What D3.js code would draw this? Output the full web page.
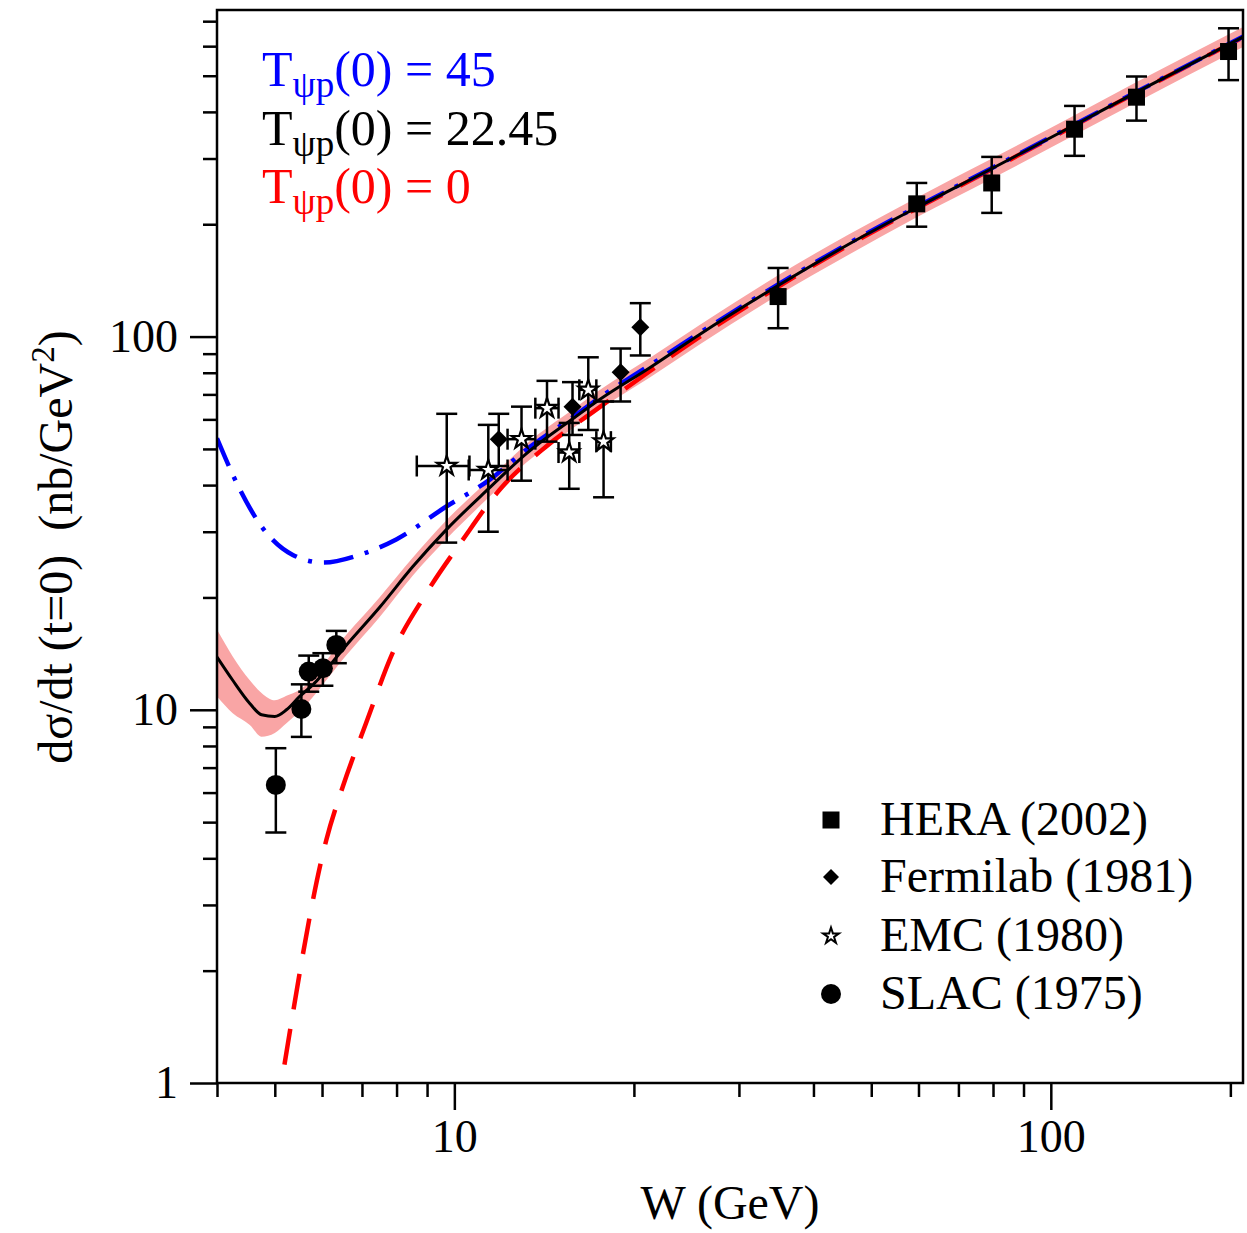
<!DOCTYPE html>
<html>
<head>
<meta charset="utf-8">
<script src="https://cdn.jsdelivr.net/npm/d3@7"></script>
<style>
body { margin: 0; background: #fff; }
text { font-family: "Liberation Serif", "Times New Roman", serif; fill: #000; }
</style>
</head>
<body>
<svg id="chart" width="1247" height="1233"></svg>
<script>
// curves (W in GeV, dsigma/dt in nb/GeV^2)
var blackW = [4.0, 4.25, 4.54, 4.75, 5.0, 5.23, 5.5, 5.79, 6.59, 7.49, 8.52, 9.68, 11.45, 13.19, 15.84, 17.5, 21.2, 25.7, 34.9, 45.9, 59.7, 79.7, 109.6, 139, 210];
var blackV = [13.85, 12.0, 10.4, 9.7, 9.6, 10.0, 10.85, 11.66, 14.9, 18.8, 24.2, 30.3, 39.3, 48.5, 60.4, 67.7, 82.3, 101, 137, 177, 222, 282, 369, 451, 635];
var blueW = [4.0, 4.36, 4.75, 5.36, 6.02, 6.93, 7.99, 9.68, 11.45, 13.18, 15.84, 17.5, 21.2, 25.7, 34.9, 45.9, 59.7, 79.7, 109.6, 139, 210];
var blueV = [53.4, 39.2, 31.0, 26.0, 24.8, 26.0, 28.6, 35.0, 41.3, 49.7, 61.0, 68.5, 83.5, 102, 138, 178, 223, 283, 370, 452, 636];
var redW = [5.19, 6.1, 6.5, 7.11, 7.88, 8.97, 10.32, 11.9, 14.24, 17.27, 21.2, 25.7, 34.9, 45.9, 59.7, 79.7, 109.6, 139, 210];
var redV = [1.12, 4.48, 6.22, 9.2, 14.2, 20.5, 28.5, 38.8, 50.7, 63.6, 80.5, 99.5, 136, 176, 221, 281, 368, 450, 634];
// uncertainty band round the black curve
var bandW = [4.0, 4.25, 4.54, 4.75, 5.0, 5.23, 5.5, 6.59, 7.49, 8.52, 9.68, 11.45, 13.19, 15.84, 17.5, 21.2, 25.7, 34.9, 45.9, 59.7, 79.7, 109.6, 139, 210];
var bandLo = [10.85, 9.79, 9.11, 8.47, 8.67, 9.2, 9.89, 14.0, 17.7, 22.9, 28.6, 37.2, 45.9, 57.0, 63.8, 77.5, 95.0, 129, 166, 209, 265, 347, 424, 597];
var bandHi = [16.4, 13.9, 12.0, 11.1, 10.6, 10.9, 11.3, 15.9, 20.0, 25.6, 32.1, 41.5, 51.5, 64.0, 71.8, 87.3, 107, 146, 188, 236, 300, 392, 480, 675];

// data sets
var heraW = [34.9, 59.6, 79.6, 109.6, 139.2, 198.6];
var heraV = [128, 226.8, 258, 359.5, 438, 580.5];
var heraLo = [105.3, 197, 214.5, 305, 379, 486.6];
var heraHi = [152.7, 258, 303, 415, 497.6, 670];

var fermiW = [11.87, 15.78, 19.0, 20.5];
var fermiV = [53.1, 64.9, 80.3, 106];
var fermiLo = [45, 54.5, 67, 89];
var fermiHi = [62.1, 75.5, 92.9, 122.9];

var emcW = [9.71, 11.4, 12.96, 14.3, 15.58, 16.77, 17.79];
var emcWlo = [8.65, 10.57, 12.28, 13.67, 14.95, 16.2, 17.3];
var emcWhi = [10.6, 12.28, 13.67, 14.95, 16.2, 17.3, 18.3];
var emcV = [45.0, 43.9, 53.1, 64.3, 48.9, 72.0, 52.3];
var emcLo = [28.05, 30, 41.1, 52.3, 39.1, 56.2, 37.1];
var emcHi = [62.1, 58, 64.9, 76.1, 58.7, 88, 67];

var slacW = [5.02, 5.54, 5.70, 6.02, 6.34];
var slacV = [6.29, 10.05, 12.66, 12.92, 14.92];
var slacLo = [4.69, 8.46, 11.18, 11.6, 13.33];
var slacHi = [7.89, 11.7, 13.97, 14.18, 16.27];

var xMajor = [10, 100];
var xMinor = [4, 5, 6, 7, 8, 9, 20, 30, 40, 50, 60, 70, 80, 90, 200];
var yMajor = [1, 10, 100];
var yMinor = [2, 3, 4, 5, 6, 7, 8, 9, 20, 30, 40, 50, 60, 70, 80, 90, 200, 300, 400, 500, 600, 700];

var curveLabels = [
	{val: '45', color: '#0000ff'},
	{val: '22.45', color: '#000000'},
	{val: '0', color: '#ff0000'}
];
var legendNames = ['HERA (2002)', 'Fermilab (1981)', 'EMC (1980)', 'SLAC (1975)'];

var L = 217, R = 1243, T = 10, B = 1083;
var svg = d3.select('#chart');
var x = d3.scaleLog().domain([4, 210]).range([L, R]);
var y = d3.scaleLog().domain([1, 750]).range([B, T]);

function zip(a, b) { return a.map(function(d, i) { return [d, b[i]]; }); }

svg.append('clipPath').attr('id', 'clip')
	.append('rect').attr('x', L).attr('y', T).attr('width', R - L).attr('height', B - T);
var plot = svg.append('g').attr('clip-path', 'url(#clip)');

var line = d3.line()
	.x(function(d) { return x(d[0]); })
	.y(function(d) { return y(d[1]); })
	.curve(d3.curveMonotoneX);

var area = d3.area()
	.x(function(d) { return x(d.w); })
	.y0(function(d) { return y(d.lo); })
	.y1(function(d) { return y(d.hi); })
	.curve(d3.curveMonotoneX);

plot.append('path')
	.datum(bandW.map(function(w, i) { return {w: w, lo: bandLo[i], hi: bandHi[i]}; }))
	.attr('d', area)
	.attr('fill', '#f9a5a5');

plot.append('path').datum(zip(redW, redV)).attr('d', line)
	.attr('fill', 'none').attr('stroke', '#ff0000').attr('stroke-width', 4.5)
	.attr('stroke-dasharray', '36,20');
plot.append('path').datum(zip(blueW, blueV)).attr('d', line)
	.attr('fill', 'none').attr('stroke', '#0000ff').attr('stroke-width', 4.5)
	.attr('stroke-dasharray', '30,12,4,12');
plot.append('path').datum(zip(blackW, blackV)).attr('d', line)
	.attr('fill', 'none').attr('stroke', '#000').attr('stroke-width', 3);

// error bars
var bars = svg.append('g').attr('stroke', '#000').attr('stroke-width', 2.5).attr('fill', 'none');
function vbar(w, lo, hi) {
	var cx = x(w);
	bars.append('line').attr('x1', cx).attr('x2', cx).attr('y1', y(lo)).attr('y2', y(hi));
	bars.append('line').attr('x1', cx - 10.5).attr('x2', cx + 10.5).attr('y1', y(lo)).attr('y2', y(lo));
	bars.append('line').attr('x1', cx - 10.5).attr('x2', cx + 10.5).attr('y1', y(hi)).attr('y2', y(hi));
}
function hbar(v, lo, hi) {
	var cy = y(v);
	bars.append('line').attr('x1', x(lo)).attr('x2', x(hi)).attr('y1', cy).attr('y2', cy);
	bars.append('line').attr('x1', x(lo)).attr('x2', x(lo)).attr('y1', cy - 10.5).attr('y2', cy + 10.5);
	bars.append('line').attr('x1', x(hi)).attr('x2', x(hi)).attr('y1', cy - 10.5).attr('y2', cy + 10.5);
}
heraW.forEach(function(w, i) { vbar(w, heraLo[i], heraHi[i]); });
fermiW.forEach(function(w, i) { vbar(w, fermiLo[i], fermiHi[i]); });
emcW.forEach(function(w, i) { vbar(w, emcLo[i], emcHi[i]); hbar(emcV[i], emcWlo[i], emcWhi[i]); });
slacW.forEach(function(w, i) { vbar(w, slacLo[i], slacHi[i]); });

// markers
var diamond = function(s) { return 'M0,' + (-s) + 'L' + s + ',0L0,' + s + 'L' + (-s) + ',0Z'; };
var star = d3.symbol().type(d3.symbolStar);
var marks = svg.append('g');
marks.selectAll('.hera').data(heraW).enter().append('rect')
	.attr('x', function(d) { return x(d) - 8.5; })
	.attr('y', function(d, i) { return y(heraV[i]) - 8.5; })
	.attr('width', 17).attr('height', 17).attr('fill', '#000');
marks.selectAll('.fermi').data(fermiW).enter().append('path')
	.attr('transform', function(d, i) { return 'translate(' + x(d) + ',' + y(fermiV[i]) + ')'; })
	.attr('d', diamond(9)).attr('fill', '#000');
marks.selectAll('.emc').data(emcW).enter().append('path')
	.attr('transform', function(d, i) { return 'translate(' + x(d) + ',' + y(emcV[i]) + ')'; })
	.attr('d', star.size(120)()).attr('fill', '#fff').attr('stroke', '#000').attr('stroke-width', 2.2);
marks.selectAll('.slac').data(slacW).enter().append('circle')
	.attr('cx', function(d) { return x(d); })
	.attr('cy', function(d, i) { return y(slacV[i]); })
	.attr('r', 10).attr('fill', '#000');

// axes
function styleAxis(g) {
	g.select('.domain').remove();
	g.selectAll('line').attr('stroke', '#000').attr('stroke-width', 2.5);
	g.selectAll('text').attr('font-family', '"Liberation Serif", serif').attr('font-size', 46).attr('fill', '#000');
}
svg.append('g').attr('transform', 'translate(0,' + B + ')')
	.call(d3.axisBottom(x).tickValues(xMinor).tickSize(14).tickSizeOuter(0).tickFormat(''))
	.call(styleAxis);
svg.append('g').attr('transform', 'translate(0,' + B + ')')
	.call(d3.axisBottom(x).tickValues(xMajor).tickSize(27).tickSizeOuter(0).tickPadding(9).tickFormat(d3.format('d')))
	.call(styleAxis);
svg.append('g').attr('transform', 'translate(' + L + ',0)')
	.call(d3.axisLeft(y).tickValues(yMinor).tickSize(14).tickSizeOuter(0).tickFormat(''))
	.call(styleAxis);
svg.append('g').attr('transform', 'translate(' + L + ',0)')
	.call(d3.axisLeft(y).tickValues(yMajor).tickSize(27).tickSizeOuter(0).tickPadding(12).tickFormat(d3.format('d')))
	.call(styleAxis);

svg.append('rect').attr('x', L).attr('y', T).attr('width', R - L).attr('height', B - T)
	.attr('fill', 'none').attr('stroke', '#000').attr('stroke-width', 2.5);

// axis titles
svg.append('text').attr('x', 730).attr('y', 1219).attr('text-anchor', 'middle')
	.attr('font-size', 48).text('W (GeV)');
var yt = svg.append('text').attr('transform', 'translate(72,547) rotate(-90)')
	.attr('text-anchor', 'middle').attr('font-size', 48).style('white-space', 'pre');
yt.append('tspan').text('dσ/dt (t=0)  (nb/GeV');
yt.append('tspan').attr('font-size', 33).attr('dy', -18).text('2');
yt.append('tspan').attr('dy', 18).text(')');

// curve labels, top left
curveLabels.forEach(function(c, i) {
	var t = svg.append('text').attr('x', 262).attr('y', 86 + i * 58.5).attr('font-size', 50).attr('fill', c.color);
	t.append('tspan').attr('fill', c.color).text('T');
	t.append('tspan').attr('fill', c.color).attr('font-size', 37).attr('dy', 11).text('ψp');
	t.append('tspan').attr('fill', c.color).attr('dy', -11).text('(0) = ' + c.val);
});

// legend, lower right
var lg = svg.append('g');
var ly = [820, 877, 936, 994];
lg.append('rect').attr('x', 831 - 8.5).attr('y', ly[0] - 8.5).attr('width', 17).attr('height', 17).attr('fill', '#000');
lg.append('path').attr('transform', 'translate(831,' + ly[1] + ')').attr('d', diamond(8)).attr('fill', '#000');
lg.append('path').attr('transform', 'translate(831,' + ly[2] + ')').attr('d', star.size(80)())
	.attr('fill', '#fff').attr('stroke', '#000').attr('stroke-width', 2);
lg.append('circle').attr('cx', 831).attr('cy', ly[3]).attr('r', 10).attr('fill', '#000');
legendNames.forEach(function(n, i) {
	lg.append('text').attr('x', 880).attr('y', ly[i] + 15).attr('font-size', 48).text(n);
});
</script>
</body>
</html>
